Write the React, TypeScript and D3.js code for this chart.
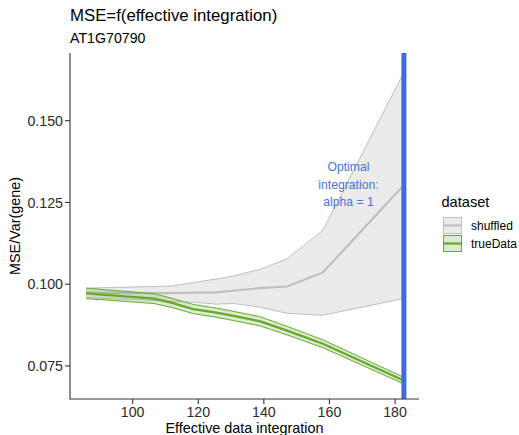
import React from "react";
import * as d3 from "d3";

// integration values (x)
const integration = [85.8, 106.5, 112.3, 118.5, 125.5, 130.7, 138.7, 147.1, 158.0, 182.5];

// shuffled dataset
const shuffledMean = [0.0974, 0.0973, 0.0973, 0.0974, 0.0975, 0.098, 0.0988, 0.0993, 0.1036, 0.1301];
const shuffledHigh = [0.0988, 0.0993, 0.0995, 0.1005, 0.1016, 0.1025, 0.1045, 0.1078, 0.1165, 0.1644];
const shuffledLow = [0.0959, 0.095, 0.0947, 0.0945, 0.0939, 0.0941, 0.093, 0.0911, 0.0905, 0.0956];

// true data
const trueMean = [0.0972, 0.0956, 0.0942, 0.0924, 0.0913, 0.0903, 0.0887, 0.0858, 0.0818, 0.0706];
const trueHigh = [0.0988, 0.0971, 0.0956, 0.0938, 0.0927, 0.0917, 0.0901, 0.0871, 0.083, 0.0716];
const trueLow = [0.0956, 0.0941, 0.0928, 0.091, 0.0899, 0.0889, 0.0873, 0.0845, 0.0806, 0.0696];

const xTicks = [100, 120, 140, 160, 180];
const yTicks = [0.075, 0.1, 0.125, 0.15];
const optimalAlpha = 182.7;

const W = 519;
const H = 435;
const panel = { left: 70, right: 419, top: 53, bottom: 399 };
const font = "'Liberation Sans', Arial, Helvetica, sans-serif";

const series = [
  { name: "shuffled", mean: shuffledMean, hi: shuffledHigh, lo: shuffledLow, color: "#bfbfbf", fill: "#ebebeb", fillOpacity: 1 },
  { name: "trueData", mean: trueMean, hi: trueHigh, lo: trueLow, color: "#66a830", fill: "#66a61e", fillOpacity: 0.22 },
];

export default function App() {
  const x = d3.scaleLinear().domain([80.9, 187.3]).range([panel.left, panel.right]);
  const y = d3.scaleLinear().domain([0.0649, 0.1707]).range([panel.bottom, panel.top]);

  const idx = integration.map((_, i) => i);

  return (
    <div style={{ position: "absolute", left: 0, top: 0 }}>
      <svg width={W} height={H} style={{ display: "block", fontFamily: font }}>
        <rect width={W} height={H} fill="#fff" />
        <text x={70} y={20.5} fontSize={16.8} fill="#000">MSE=f(effective integration)</text>
        <text x={70} y={42.8} fontSize={14.2} fill="#000">AT1G70790</text>

        {series.map((s) => {
          const area = d3
            .area<number>()
            .x((i) => x(integration[i]))
            .y0((i) => y(s.lo[i]))
            .y1((i) => y(s.hi[i]));
          const hiLine = d3.line<number>().x((i) => x(integration[i])).y((i) => y(s.hi[i]));
          const loLine = d3.line<number>().x((i) => x(integration[i])).y((i) => y(s.lo[i]));
          const meanLine = d3.line<number>().x((i) => x(integration[i])).y((i) => y(s.mean[i]));
          return (
            <g key={s.name}>
              <path d={area(idx) || ""} fill={s.fill} fillOpacity={s.fillOpacity} />
              <path d={hiLine(idx) || ""} fill="none" stroke={s.color} strokeWidth={1} />
              <path d={loLine(idx) || ""} fill="none" stroke={s.color} strokeWidth={1} />
              <path d={meanLine(idx) || ""} fill="none" stroke={s.color} strokeWidth={2.2} />
            </g>
          );
        })}

        <line
          x1={x(optimalAlpha)}
          x2={x(optimalAlpha)}
          y1={panel.top}
          y2={panel.bottom}
          stroke="#4169e1"
          strokeWidth={5}
        />
        <text fontSize={12.2} fill="#4a73e0" textAnchor="middle">
          <tspan x={x(165.8)} y={170.5}>Optimal</tspan>
          <tspan x={x(165.8)} y={188.5}>integration:</tspan>
          <tspan x={x(165.8)} y={205.5}>alpha = 1</tspan>
        </text>

        {/* axes */}
        <line x1={panel.left} x2={panel.left} y1={panel.top} y2={panel.bottom + 0.5} stroke="#333" strokeWidth={1.1} />
        <line x1={panel.left} x2={panel.right} y1={panel.bottom} y2={panel.bottom} stroke="#333" strokeWidth={1.1} />
        {yTicks.map((t) => (
          <g key={t}>
            <line x1={panel.left - 5} x2={panel.left} y1={y(t)} y2={y(t)} stroke="#333" strokeWidth={1.1} />
            <text x={panel.left - 7} y={y(t)} dy="0.36em" textAnchor="end" fontSize={14.2} fill="#2b2b2b">
              {d3.format(".3f")(t)}
            </text>
          </g>
        ))}
        {xTicks.map((t) => (
          <g key={t}>
            <line x1={x(t)} x2={x(t)} y1={panel.bottom} y2={panel.bottom + 5} stroke="#333" strokeWidth={1.1} />
            <text x={x(t)} y={416.5} textAnchor="middle" fontSize={14.2} fill="#2b2b2b">
              {t}
            </text>
          </g>
        ))}
        <text x={(panel.left + panel.right) / 2} y={432.5} textAnchor="middle" fontSize={14.4} fill="#000">
          Effective data integration
        </text>
        <text
          transform={`translate(20,${(panel.top + panel.bottom) / 2}) rotate(-90)`}
          textAnchor="middle"
          fontSize={14.4}
          fill="#000"
        >
          MSE/Var(gene)
        </text>

        {/* legend */}
        <text x={441.5} y={206.5} fontSize={14.6} fill="#000">dataset</text>
        {series.map((s, i) => {
          const ky = 217 + i * 18;
          return (
            <g key={s.name}>
              <rect x={443} y={ky} width={19} height={17} fill="#fff" />
              <rect x={443.5} y={ky + 0.5} width={18} height={16} fill={s.fill} fillOpacity={s.fillOpacity} stroke={s.color} strokeWidth={1} />
              <line x1={443.5} x2={461.5} y1={ky + 8.5} y2={ky + 8.5} stroke={s.color} strokeWidth={2.2} />
              <text x={471} y={ky + 8.5} dy="0.36em" fontSize={12} fill="#000">
                {s.name}
              </text>
            </g>
          );
        })}
      </svg>
    </div>
  );
}
